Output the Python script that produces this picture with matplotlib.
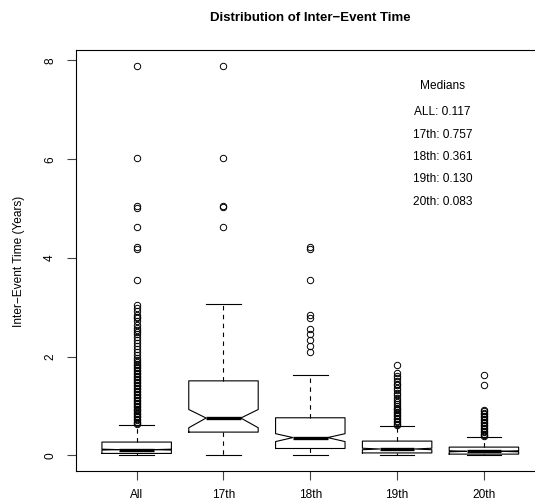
import matplotlib
matplotlib.use("Agg")
import matplotlib.pyplot as plt

plt.rcParams['font.family'] = ['Liberation Sans', 'DejaVu Sans']

labels = ['All', '17th', '18th', '19th', '20th']
whislo = [0.0, 0.0, 0.0, 0.0, 0.0]
q1 = [0.04, 0.472, 0.14, 0.05, 0.026]
med = [0.117, 0.757, 0.361, 0.130, 0.083]
q3 = [0.27, 1.51, 0.762, 0.29, 0.168]
whishi = [0.614, 3.066, 1.633, 0.60, 0.377]
cilo = [0.108, 0.56, 0.28, 0.115, 0.072]
cihi = [0.126, 0.93, 0.44, 0.145, 0.094]

fliers_all = [7.89, 6.02, 5.05, 5.02, 4.62, 4.22, 4.18, 3.55, 3.05, 2.98, 2.92,
              2.85, 2.81, 2.78, 2.72, 2.65, 2.58, 2.55, 2.50, 2.46, 2.40, 2.34,
              2.28, 2.21, 2.15, 2.09, 2.04, 1.98, 1.94, 1.90, 1.86, 1.83, 1.80,
              1.77, 1.74, 1.70, 1.67, 1.64, 1.61, 1.58, 1.55, 1.52, 1.49, 1.46,
              1.43, 1.40, 1.37, 1.34, 1.31, 1.28, 1.25, 1.22, 1.19, 1.16, 1.13,
              1.10, 1.07, 1.04, 1.01, 0.98, 0.95, 0.92, 0.89, 0.86, 0.83, 0.80,
              0.77, 0.74, 0.71, 0.68, 0.65, 0.63]
fliers_17 = [7.89, 6.02, 5.05, 5.03, 4.62]
fliers_18 = [4.22, 4.18, 3.55, 2.85, 2.78, 2.57, 2.46, 2.34, 2.21, 2.09]
fliers_19 = [1.84, 1.66, 1.60, 1.56, 1.50, 1.45, 1.42, 1.37, 1.32, 1.27, 1.22,
             1.17, 1.13, 1.08, 1.04, 1.00, 0.97, 0.94, 0.91, 0.88, 0.85, 0.82,
             0.79, 0.76, 0.73, 0.70, 0.67, 0.64, 0.62]
fliers_20 = [1.62, 1.42, 0.92, 0.89, 0.86, 0.83, 0.80, 0.77, 0.74, 0.71, 0.68,
             0.65, 0.62, 0.59, 0.56, 0.53, 0.50, 0.47, 0.44, 0.41, 0.39]
fliers = [fliers_all, fliers_17, fliers_18, fliers_19, fliers_20]

median_text = ['Medians', 'ALL: 0.117', '17th: 0.757', '18th: 0.361',
               '19th: 0.130', '20th: 0.083']
median_text_y = [7.49, 6.96, 6.49, 6.04, 5.59, 5.14]

stats = []
for i in range(len(labels)):
    stats.append({'label': labels[i], 'whislo': whislo[i], 'q1': q1[i],
                  'med': med[i], 'q3': q3[i], 'whishi': whishi[i],
                  'cilo': cilo[i], 'cihi': cihi[i], 'fliers': fliers[i]})

W, H = 535, 504
fig = plt.figure(figsize=(W / 100, H / 100), dpi=100)
# right edge of the frame falls outside the picture, as in the original
ax = fig.add_axes([75.9 / W, (H - 471) / H, 468.8 / W, (471 - 50.3) / H])

lw = 0.8
ax.bxp(stats, positions=range(1, 6), widths=0.8, capwidths=0.4,
       shownotches=True, patch_artist=False,
       boxprops=dict(color='black', linewidth=lw),
       whiskerprops=dict(color='black', linewidth=lw, linestyle=(0, (4, 4))),
       capprops=dict(color='black', linewidth=lw),
       medianprops=dict(color='black', linewidth=2.4, solid_capstyle='butt'),
       flierprops=dict(marker='o', markersize=4.6, markerfacecolor='none',
                       markeredgecolor='black', markeredgewidth=0.7))

ax.set_xlim(0.3, 5.7)
ax.set_ylim(-0.316, 8.206)
ax.set_yticks([0, 2, 4, 6, 8])
ax.set_yticklabels(['0', '2', '4', '6', '8'], rotation=90, va='center')
ax.set_xticks(range(1, 6))
ax.set_xticklabels(labels)
ax.tick_params(axis='both', length=6.2, width=lw, labelsize=8.6, color='#444444')
ax.tick_params(axis='y', pad=8)
ax.tick_params(axis='x', pad=7)
for s in ax.spines.values():
    s.set_linewidth(lw)

for t, ty in zip(median_text, median_text_y):
    ax.text(4.52, ty, t, ha='center', va='center', fontsize=8.6)

fig.text(310 / W, 1 - 18 / H, 'Distribution of Inter\u2212Event Time',
         ha='center', va='center', fontsize=9.5, fontweight='bold')
fig.text(19 / W, 1 - 261 / H, 'Inter\u2212Event Time (Years)',
         ha='center', va='center', rotation=90, fontsize=8.6)

fig.savefig('out.png', dpi=100)
